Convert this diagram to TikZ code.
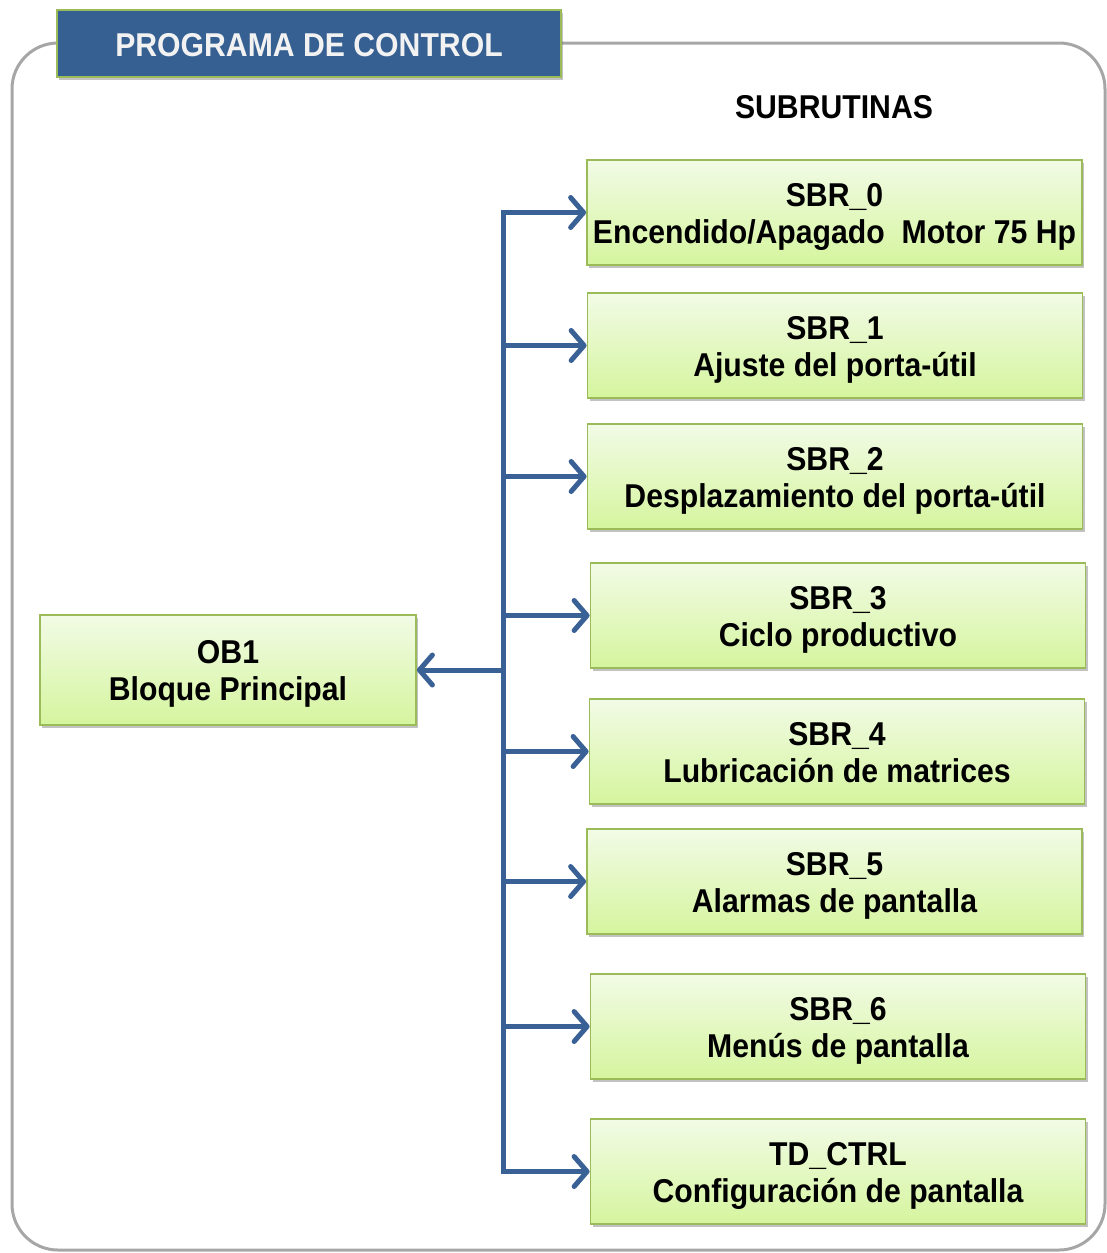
\documentclass[tikz,border=0pt]{standalone}
\usepackage{fontspec}
\setmainfont{Liberation Sans}[FakeStretch=0.915]
\usetikzlibrary{arrows.meta,shadows}
\definecolor{frameGray}{HTML}{A6A6A6}
\definecolor{titleBlue}{HTML}{366092}
\definecolor{boxEdge}{HTML}{9BBB59}
\definecolor{boxTop}{HTML}{F2FBE6}
\definecolor{boxBottom}{HTML}{D5F59E}
\definecolor{wireBlue}{HTML}{3A6196}
% two centred lines, set a little below the middle of the box
\newcommand{\twolines}[2]{\raisebox{-5pt}[\height][\depth]{\begin{tabular}{@{}c@{}}#1\\#2\end{tabular}}}
\begin{document}
\begin{tikzpicture}[x=1pt,y=-1pt,
  txt/.style={font=\fontsize{33}{37}\selectfont\bfseries},
  block/.style={txt, draw=boxEdge, line width=1.8pt, top color=boxTop, bottom color=boxBottom,
    minimum width=495pt, minimum height=105pt, align=center, inner sep=0pt,
    drop shadow={shadow xshift=2pt, shadow yshift=-3pt, opacity=0.4, fill=black!60}},
  titlebox/.style={txt, fill=titleBlue, draw=boxEdge, line width=1.8pt, text=white!95!black,
    minimum width=504pt, minimum height=67pt, inner sep=0pt,
    drop shadow={shadow xshift=2pt, shadow yshift=-3pt, opacity=0.4, fill=black!60}},
  wire/.style={draw=wireBlue, line width=5pt},
  arr/.style={wire, -{Straight Barb[length=13pt, width=30pt, line cap=round, line join=round]}}
]
\useasboundingbox (0,0) rectangle (1107,1253);

% outer frame
\draw[frameGray, line width=3pt, rounded corners=46pt] (12,43) rectangle (1105,1250);

% heading tab and section label
\node[titlebox] (title) at (309,43.5) {\raisebox{-1.5pt}[\height][\depth]{PROGRAMA DE CONTROL}};
\node[txt] (subs) at (834,107) {SUBRUTINAS};

% main block
\node[block, minimum width=376pt, minimum height=110pt] (ob1) at (228,670) {\twolines{OB1}{Bloque Principal}};

% subroutine blocks
\node[block] (s0) at (834.5,212.5) {\twolines{SBR\_0}{Encendido/Apagado\ \ Motor 75 Hp}};
\node[block] (s1) at (835,345.5) {\twolines{SBR\_1}{Ajuste del porta-útil}};
\node[block] (s2) at (835,476.5) {\twolines{SBR\_2}{Desplazamiento del porta-útil}};
\node[block] (s3) at (838,615.5) {\twolines{SBR\_3}{Ciclo productivo}};
\node[block] (s4) at (837,751.5) {\twolines{SBR\_4}{Lubricación de matrices}};
\node[block] (s5) at (834.5,881.5) {\twolines{SBR\_5}{Alarmas de pantalla}};
\node[block] (s6) at (838,1026.5) {\twolines{SBR\_6}{Menús de pantalla}};
\node[block] (td) at (838,1171.5) {\twolines{TD\_CTRL}{Configuración de pantalla}};

% distribution bus
\coordinate (bus) at (503,670);
\draw[wire, line cap=rect] (s0.west -| bus) -- (td.west -| bus);
\foreach \b in {s0,s1,s2,s3,s4,s5,s6,td}
  \draw[arr] (\b.west -| bus) -- (\b.west);
\draw[arr] (bus) -- (ob1.east |- bus);
\end{tikzpicture}
\end{document}
